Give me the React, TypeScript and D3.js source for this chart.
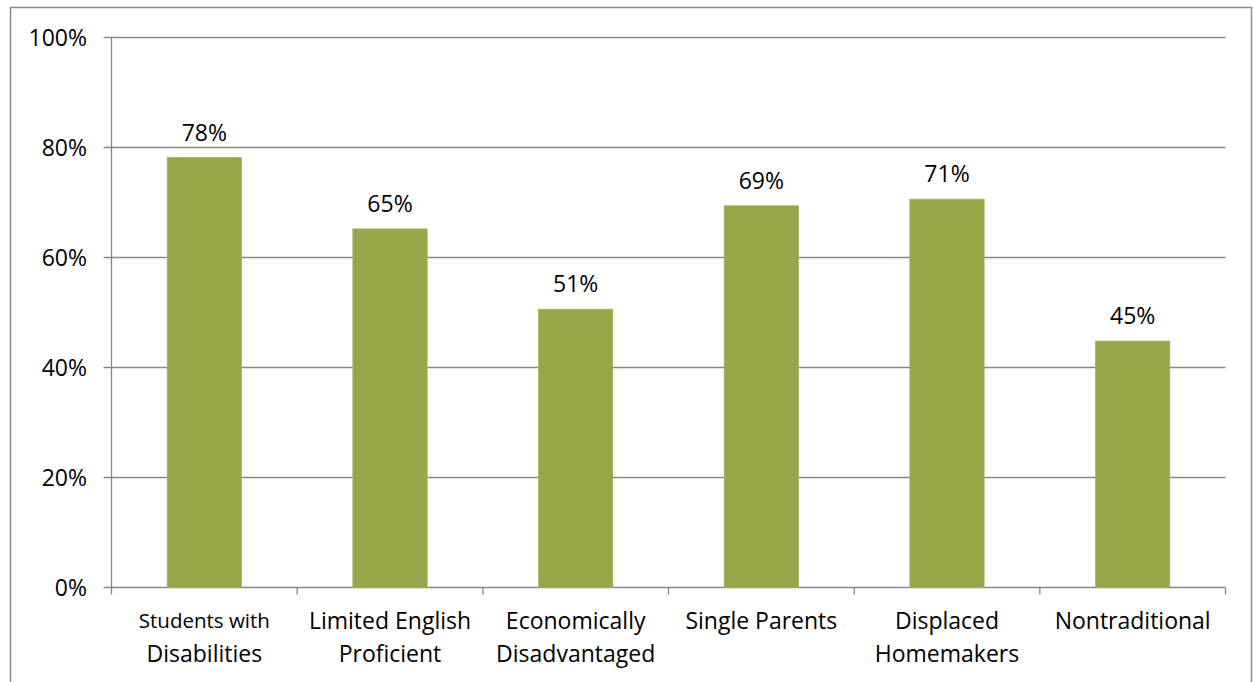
import React from "react";
import * as d3 from "d3";

const categories: string[][] = [
  ["Students with", "Disabilities"],
  ["Limited English", "Proficient"],
  ["Economically", "Disadvantaged"],
  ["Single Parents"],
  ["Displaced", "Homemakers"],
  ["Nontraditional"],
];
const values: number[] = [0.782, 0.652, 0.506, 0.694, 0.706, 0.448];
const yTicks: number[] = [0, 0.2, 0.4, 0.6, 0.8, 1.0];

const W = 1253;
const H = 682;
const left = 111.5;
const right = 1225.5;
const top = 37.5;
const bottom = 587.5;
const font = "Open Sans, 'Noto Sans', sans-serif";

export default function App() {
  const x = d3
    .scaleBand<number>()
    .domain(values.map((_, i) => i))
    .range([left, right])
    .paddingInner(0.6)
    .paddingOuter(0.3);
  const step = (right - left) / values.length;
  const y = d3.scaleLinear().domain([0, 1]).range([bottom, top]);
  const fmt = d3.format(".0%");
  const grid = "#878787";

  return (
    <svg
      width={W}
      height={H}
      style={{ position: "absolute", left: 0, top: 0, background: "#fff" }}
      fontFamily={font}
    >
      <rect x={10.5} y={7.5} width={1241} height={700} fill="none" stroke="#8c8c8c" strokeWidth={1.5} />
      {yTicks.map((t) => (
        <g key={t}>
          <line x1={left - 8} x2={right} y1={y(t)} y2={y(t)} stroke={grid} strokeWidth={1.3} />
          <text x={87} y={y(t)} dy="0.36em" textAnchor="end" fontSize={23} fill="#000">
            {fmt(t)}
          </text>
        </g>
      ))}
      <line x1={left} x2={left} y1={top} y2={bottom} stroke={grid} strokeWidth={1.3} />
      {d3.range(values.length + 1).map((i) => (
        <line
          key={i}
          x1={left + i * step}
          x2={left + i * step}
          y1={bottom}
          y2={bottom + 7}
          stroke={grid}
          strokeWidth={1.3}
        />
      ))}
      {values.map((v, i) => (
        <g key={i}>
          <rect
            x={x(i)!}
            y={y(v)}
            width={x.bandwidth()}
            height={bottom - y(v)}
            fill="#96a648"
            stroke="#a4b462"
            strokeWidth={0.8}
          />
          <text
            x={x(i)! + x.bandwidth() / 2}
            y={y(v) - 25}
            dy="0.36em"
            textAnchor="middle"
            fontSize={23}
            fill="#000"
          >
            {fmt(Math.round(v * 100) / 100)}
          </text>
        </g>
      ))}
      {categories.map((lines, i) => (
        <text
          key={i}
          x={left + (i + 0.5) * step}
          textAnchor="middle"
          fill="#000"
        >
          {lines.map((l, j) => (
            <tspan
              key={j}
              x={left + (i + 0.5) * step}
              y={621 + j * 33}
              dy="0.36em"
              fontSize={i === 0 && j === 0 ? 20.5 : 23}
            >
              {l}
            </tspan>
          ))}
        </text>
      ))}
    </svg>
  );
}
